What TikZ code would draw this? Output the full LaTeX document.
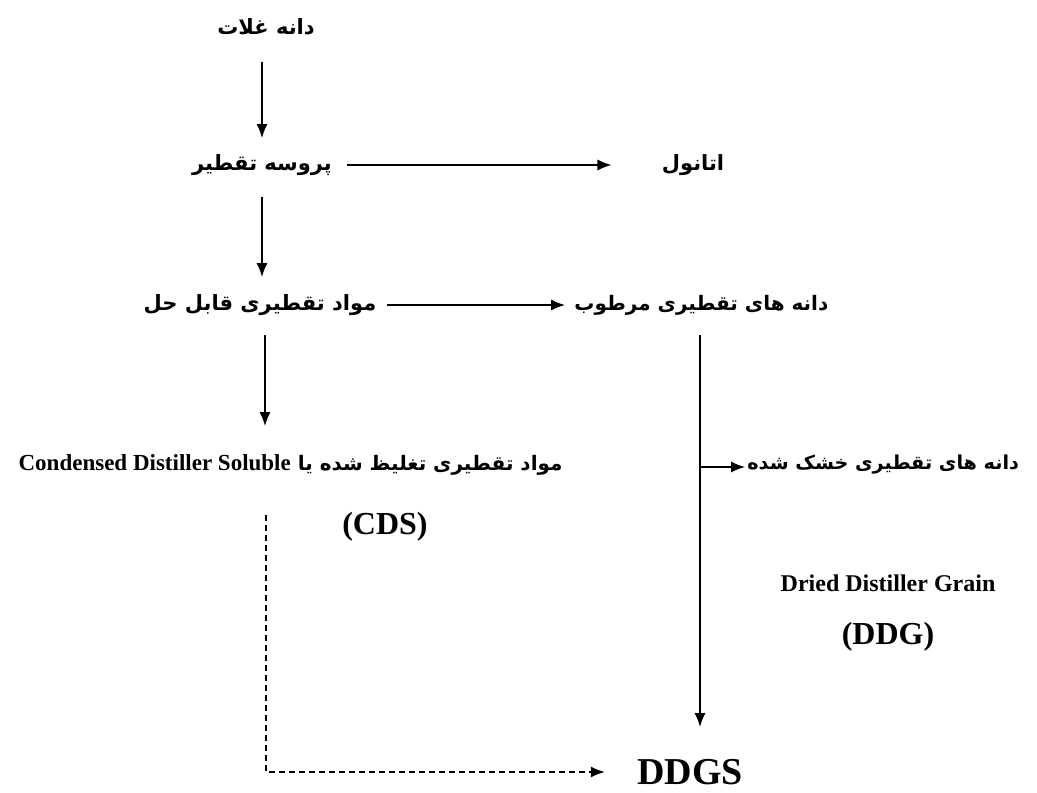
\documentclass[tikz,border=0pt]{standalone}
\usepackage{fontspec}
\setmainfont{Liberation Serif}
\newfontfamily\fa[Script=Arabic]{DejaVu Sans}
\TeXXeTstate=1
\usetikzlibrary{arrows.meta,calc}
\begin{document}
\begin{tikzpicture}[x=0.5pt,y=-0.5pt,
  fa/.style={font=\fa\bfseries\fontsize{10.5}{13}\selectfont, inner sep=1pt},
  en/.style={font=\bfseries\fontsize{12}{14}\selectfont, inner sep=1pt},
  big/.style={font=\bfseries\fontsize{16}{18}\selectfont, inner sep=1pt},
  arr/.style={-{Latex[length=7pt,width=5.5pt]}, line width=0.7pt},
  dsh/.style={arr, dash pattern=on 3pt off 2pt}
]
\useasboundingbox[fill=white] (0,0) rectangle (1037,792);
\node[fa] (n1) at (266,27) {\beginR دانه غلات\endR};
\node[fa] (n2) at (262,165) {\beginR پروسه تقطیر\endR};
\node[fa] (n3) at (693,165) {\beginR اتانول\endR};
\node[fa] (n4) at (260,305) {\beginR مواد تقطیری قابل حل\endR};
\node[fa, font=\fa\bfseries\fontsize{10}{13}\selectfont, anchor=west] (n5) at (572,305) {\beginR دانه های تقطیری مرطوب\endR};
\node[fa, font=\fa\bfseries\fontsize{10}{13}\selectfont, anchor=east] (n6) at (565,465) {\beginR مواد تقطیری تغلیظ شده یا \beginL{\rmfamily\bfseries\fontsize{11.5}{13}\selectfont Condensed Distiller Soluble}\endL\endR};
\node[fa, font=\fa\bfseries\fontsize{9.6}{13}\selectfont, anchor=west] (n7) at (745,465) {\beginR دانه های  تقطیری خشک شده\endR};
\node[big] (n8) at (385,527) {(CDS)};
\node[en] (n9) at (888,583) {Dried Distiller Grain};
\node[big] (n10) at (888,637) {(DDG)};
\node[big, font=\bfseries\fontsize{19}{21}\selectfont] (n11) at (690,772) {DDGS};
\coordinate (c1) at (262,62);
\coordinate (c2) at (262,138);
\coordinate (c3) at (262,197);
\coordinate (c4) at (262,277);
\coordinate (c5) at (265,335);
\coordinate (c6) at (265,426);
\coordinate (r1) at (700,335);
\coordinate (br) at (700,467);
\coordinate (r2) at (700,727);
\coordinate (d1) at (266,515);
\draw[arr] (c1) -- (c2);
\draw[arr, shorten <=6.5pt, shorten >=24pt] (n2) -- (n3);
\draw[arr] (c3) -- (c4);
\draw[arr, shorten <=4pt, shorten >=3.5pt] (n4) -- (n5);
\draw[arr] (c5) -- (c6);
\draw[line width=0.7pt] (r1) -- (br);
\draw[arr] (br) -- (r2);
\draw[arr] (br) -- (br -| n7.west);
\draw[dsh] (d1) |- ($(n11.west)+(-30,0)$);
\end{tikzpicture}
\end{document}
